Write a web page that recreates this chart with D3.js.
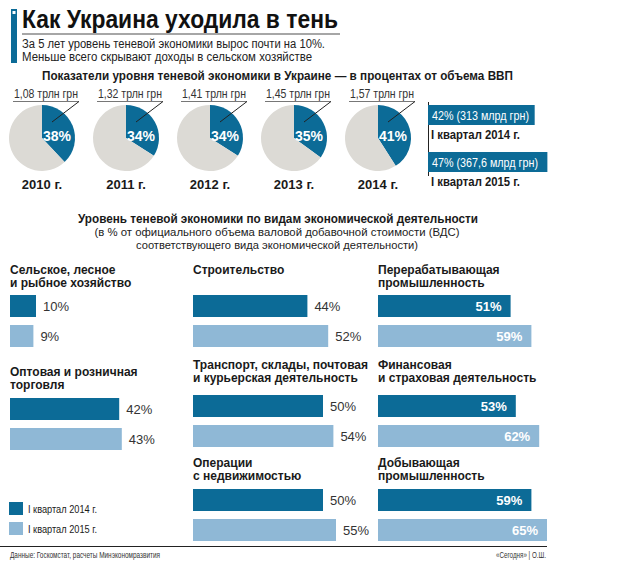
<!DOCTYPE html>
<html><head><meta charset="utf-8">
<script src="https://cdn.jsdelivr.net/npm/d3@7"></script>
<style>
html,body{margin:0;padding:0;background:#fff;}
svg{display:block;}
</style>
</head><body>
<svg id="c" width="630" height="561"></svg>
<script>
// ---- data ----
const pieYears = ["2010 г.", "2011 г.", "2012 г.", "2013 г.", "2014 г."];
const pieShares = [38, 34, 34, 35, 41];
const pieTotals = ["1,08 трлн грн", "1,32 трлн грн", "1,41 трлн грн", "1,45 трлн грн", "1,57 трлн грн"];
const quarterLabels = ["I квартал 2014 г.", "I квартал 2015 г."];
const quarterShares = [42, 47];
const quarterAmounts = ["313 млрд грн", "367,6 млрд грн"];
const sectorNames = [
  ["Сельское, лесное", "и рыбное хозяйство"],
  ["Оптовая и розничная", "торговля"],
  ["Строительство"],
  ["Транспорт, склады, почтовая", "и курьерская деятельность"],
  ["Операции", "с недвижимостью"],
  ["Перерабатывающая", "промышленность"],
  ["Финансовая", "и страховая деятельность"],
  ["Добывающая", "промышленность"]
];
const values2014 = [10, 42, 44, 50, 50, 51, 53, 59];
const values2015 = [9, 43, 52, 54, 55, 59, 62, 65];
const seriesLabels = ["I квартал 2014 г.", "I квартал 2015 г."];

// ---- style / layout ----
const DARK = "#0c6b97", LIGHT = "#8fb8d6", GREY = "#dcdad5", TXT = "#1a1a1a";
const SANS = "'Liberation Sans', Arial, sans-serif";
const svg = d3.select("#c");

function fit(sel, w) { return sel.attr("textLength", w).attr("lengthAdjust", "spacingAndGlyphs"); }

// title block
svg.append("rect").attr("x", 11).attr("y", 9).attr("width", 6).attr("height", 54).attr("fill", DARK);
svg.append("rect").attr("x", 12.5).attr("y", 11).attr("width", 3).attr("height", 3).attr("fill", "#fff");
fit(svg.append("text").attr("x", 22).attr("y", 28).attr("font-family", SANS).attr("font-weight", "bold")
  .attr("font-size", 25).attr("fill", "#111").text("Как Украина уходила в тень"), 316);
svg.append("line").attr("x1", 22).attr("x2", 340).attr("y1", 34).attr("y2", 34).attr("stroke", "#888").attr("stroke-width", 1.5);
fit(svg.append("text").attr("x", 22).attr("y", 48).attr("font-family", SANS).attr("font-size", 12).attr("fill", "#222")
  .text("За 5 лет уровень теневой экономики вырос почти на 10%."), 303);
fit(svg.append("text").attr("x", 22).attr("y", 61).attr("font-family", SANS).attr("font-size", 12).attr("fill", "#222")
  .text("Меньше всего скрывают доходы в сельском хозяйстве"), 290);

// pie heading
fit(svg.append("text").attr("x", 42).attr("y", 80).attr("font-family", SANS).attr("font-weight", "bold")
  .attr("font-size", 13).attr("fill", TXT)
  .text("Показатели уровня теневой экономики в Украине — в процентах от объема ВВП"), 471);

// pies
const px = d3.scalePoint().domain(pieYears).range([42, 378]);
const pieGen = d3.pie().sort(null).value(d => d);
const arc = d3.arc().innerRadius(0).outerRadius(33);
const pieCy = 138;
pieYears.forEach((yr, i) => {
  const cx = px(yr);
  const g = svg.append("g").attr("transform", `translate(${cx},${pieCy})`);
  g.selectAll("path").data(pieGen([pieShares[i], 100 - pieShares[i]])).join("path")
    .attr("d", arc).attr("fill", (d, j) => j === 0 ? DARK : GREY);
  g.append("text").attr("x", 15).attr("y", 3).attr("text-anchor", "middle").attr("font-family", SANS)
    .attr("font-weight", "bold").attr("font-size", 14).attr("fill", "#fff").text(pieShares[i] + "%");
  fit(svg.append("text").attr("x", cx - 28).attr("y", 98).attr("font-family", SANS).attr("font-size", 13)
    .attr("fill", "#333").text(pieTotals[i]), 64);
  svg.append("line").attr("x1", cx - 29).attr("x2", cx + 37).attr("y1", 101.5).attr("y2", 101.5).attr("stroke", "#777").attr("stroke-width", 1.2);
  svg.append("line").attr("x1", cx + 37).attr("y1", 101.5).attr("x2", cx + 10).attr("y2", 122).attr("stroke", "#222").attr("stroke-width", 1);
  svg.append("text").attr("x", cx).attr("y", 189).attr("text-anchor", "middle").attr("font-family", SANS)
    .attr("font-weight", "bold").attr("font-size", 13).attr("fill", TXT).text(yr);
});

// quarter boxes
const qx = d3.scaleLinear().domain([0, 100]).range([0, 254]);
svg.append("line").attr("x1", 428.5).attr("x2", 428.5).attr("y1", 102).attr("y2", 176).attr("stroke", "#222").attr("stroke-width", 1);
const qTops = [105, 152];
const qTextW = [97, 106];
quarterLabels.forEach((q, i) => {
  svg.append("rect").attr("x", 428).attr("y", qTops[i]).attr("width", qx(quarterShares[i])).attr("height", 20).attr("fill", DARK);
  fit(svg.append("text").attr("x", 432).attr("y", qTops[i] + 14.5).attr("font-family", SANS).attr("font-size", 13)
    .attr("fill", "#fff").text(`${quarterShares[i]}% (${quarterAmounts[i]})`), qTextW[i]);
  fit(svg.append("text").attr("x", 431).attr("y", qTops[i] + 34).attr("font-family", SANS).attr("font-weight", "bold").attr("font-size", 12.5)
    .attr("fill", TXT).text(q), 89);
});

// middle heading
fit(svg.append("text").attr("x", 278).attr("y", 223).attr("text-anchor", "middle").attr("font-family", SANS)
  .attr("font-weight", "bold").attr("font-size", 12).attr("fill", TXT)
  .text("Уровень теневой экономики по видам экономической деятельности"), 400);
fit(svg.append("text").attr("x", 277).attr("y", 236).attr("text-anchor", "middle").attr("font-family", SANS)
  .attr("font-size", 11.5).attr("fill", "#222")
  .text("(в % от официального объема валовой добавочной стоимости (ВДС)"), 365);
fit(svg.append("text").attr("x", 277).attr("y", 249).attr("text-anchor", "middle").attr("font-family", SANS)
  .attr("font-size", 11.5).attr("fill", "#222")
  .text("соответствующего вида экономической деятельности)"), 282);

// bar panels
const bx = d3.scaleLinear().domain([0, 100]).range([0, 260]);
const colX = [10, 193, 378];
const panelCol = [0, 0, 1, 1, 1, 2, 2, 2];
const panelTitleY = [274, 376, 274, 369, 467, 274, 369, 467];
const panelBarY = [295, 398, 295, 395, 489, 295, 395, 489];
const inside = [false, false, false, false, false, true, true, true];
sectorNames.forEach((lines, i) => {
  const x0 = colX[panelCol[i]];
  const t = svg.append("text").attr("font-family", SANS).attr("font-weight", "bold").attr("font-size", 12).attr("fill", TXT);
  lines.forEach((ln, k) => t.append("tspan").attr("x", x0).attr("y", panelTitleY[i] + k * 13).text(ln));
  [values2014[i], values2015[i]].forEach((v, s) => {
    const y = panelBarY[i] + s * 30;
    svg.append("rect").attr("x", x0).attr("y", y).attr("width", bx(v)).attr("height", 22).attr("fill", s === 0 ? DARK : LIGHT);
    const lab = svg.append("text").attr("y", y + 15.5).attr("font-family", SANS).attr("font-size", 13).text(v + "%");
    if (inside[i]) lab.attr("x", x0 + bx(v) - 9).attr("text-anchor", "end").attr("fill", "#fff").attr("font-weight", "bold");
    else lab.attr("x", x0 + bx(v) + 7).attr("fill", "#333");
  });
});

// legend
seriesLabels.forEach((l, i) => {
  svg.append("rect").attr("x", 9).attr("y", 502 + i * 20).attr("width", 14).attr("height", 13).attr("fill", i === 0 ? DARK : LIGHT);
  fit(svg.append("text").attr("x", 28).attr("y", 512.5 + i * 20).attr("font-family", SANS).attr("font-size", 11.5).attr("fill", TXT).text(l), 69);
});

// footer
svg.append("line").attr("x1", 0).attr("x2", 547).attr("y1", 546.5).attr("y2", 546.5).attr("stroke", "#222").attr("stroke-width", 1);
fit(svg.append("text").attr("x", 10).attr("y", 558).attr("font-family", SANS).attr("font-size", 9.5).attr("fill", "#333")
  .text("Данные: Госкомстат, расчеты Минэкономразвития"), 150);
fit(svg.append("text").attr("x", 546).attr("y", 558).attr("text-anchor", "end").attr("font-family", SANS).attr("font-size", 9.5).attr("fill", "#333")
  .text("«Сегодня» | О.Ш."), 50);
</script>
</body></html>
